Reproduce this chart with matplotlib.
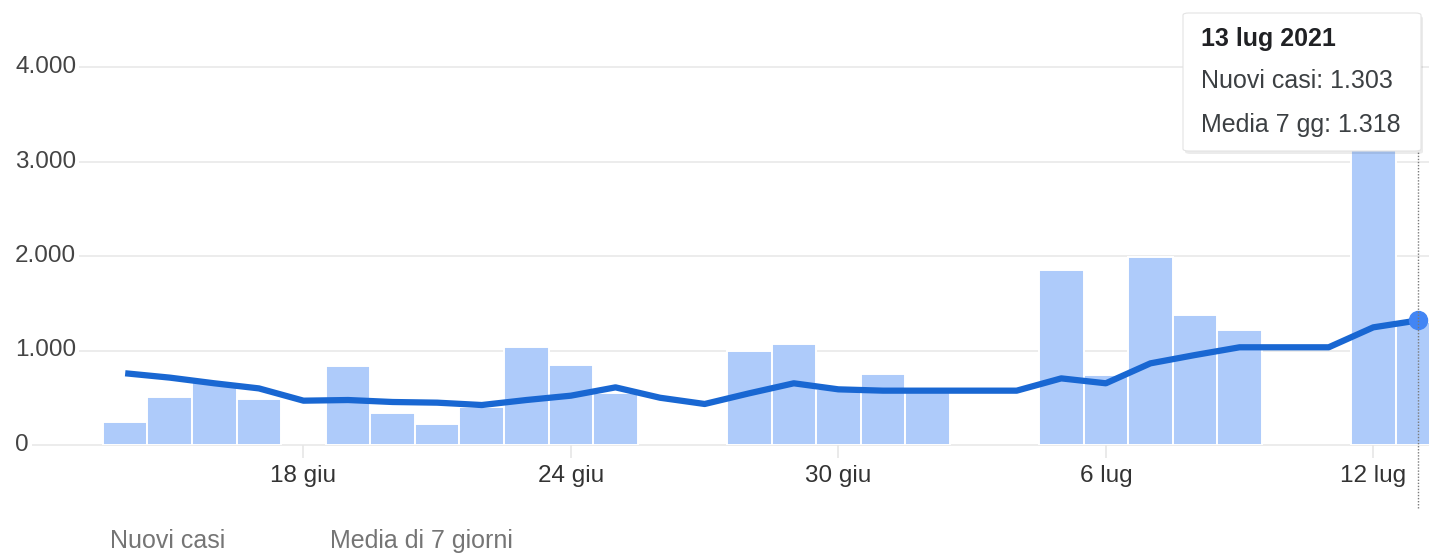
import numpy as np
import matplotlib
matplotlib.use("Agg")
import matplotlib.pyplot as plt
from matplotlib.patches import FancyBboxPatch

# ---- data (14 giu -> 13 lug 2021) ----
nuovi_casi = [240, 505, 670, 490, np.nan, 836, 335, 222, 405, 1034,
              850, 550, np.nan, np.nan, 1000, 1069, 590, 751, 590, np.nan,
              np.nan, 1850, 741, 1993, 1376, 1217, np.nan, np.nan, 3600, 1303]
media_7gg = [759, 713, 653, 599, 469, 476, 455, 448, 423, 476,
             522, 610, 500, 434, 547, 653, 589, 575, 575, 575,
             575, 705, 653, 864, 952, 1034, 1034, 1034, 1245, 1318]
tick_idx = [4, 10, 16, 22, 28]
tick_labels = ["18 giu", "24 giu", "30 giu", "6 lug", "12 lug"]
y_ticks = [0, 1000, 2000, 3000, 4000]
y_labels = ["0", "1.000", "2.000", "3.000", "4.000"]
legend_labels = ["Nuovi casi", "Media di 7 giorni"]
tip_title = "13 lug 2021"
tip_lines = ["Nuovi casi: 1.303", "Media 7 gg: 1.318"]

plt.rcParams['font.family'] = ['Liberation Sans', 'DejaVu Sans']

W, H = 1429, 556
fig = plt.figure(figsize=(W / 100, H / 100), dpi=100)

def fx(px):
    return px / W

def fy(py):
    return 1 - py / H

# axes: 0 at y=445, 4000 at y=67 ; x from 15 to 1429
ax = fig.add_axes([fx(15), fy(445), 1 - fx(15), fy(67) - fy(445)])
days = np.arange(len(nuovi_casi))
ax.set_xlim(-2.472, 29.25)
ax.set_ylim(0, 4000)

for s in ax.spines.values():
    s.set_visible(False)

# gridlines
for yv in y_ticks:
    ax.axhline(yv, color='#ebebeb', lw=1.3, zorder=0, clip_on=False)

# bars
ax.bar(days, nuovi_casi, width=1.0, color='#aecbfa', edgecolor='white',
       linewidth=1.4, zorder=2)

# 7-day average
ax.plot(days, media_7gg, color='#1967d2', lw=4.5, solid_joinstyle='round',
        solid_capstyle='butt', zorder=3)
ax.plot(days[-1], media_7gg[-1], 'o', color='#4285f4', markersize=13,
        zorder=4, clip_on=False)

# hover line
ax.plot([days[-1], days[-1]], [-667, 4000], color='#7a7a7a', lw=1.0,
        ls=(0, (1, 1.2)), zorder=5, clip_on=False)

# y labels over gridlines
for yv, lab in zip(y_ticks, y_labels):
    ax.text(0, yv, lab, transform=ax.get_yaxis_transform(), ha='left',
            va='center', fontsize=17.5, color='#444444', zorder=6,
            bbox=dict(boxstyle='square,pad=0.12', fc='white', ec='none'))
ax.set_yticks([])

# x ticks
ax.set_xticks(tick_idx)
ax.set_xticklabels(tick_labels, fontsize=17.5, color='#333333')
ax.tick_params(axis='x', length=9.5, width=1.2, color='#e6e6e6', pad=5)

# legend texts
fig.text(fx(110), fy(541), legend_labels[0], fontsize=18, color='#757575',
         ha='left', va='center')
fig.text(fx(330), fy(541), legend_labels[1], fontsize=18, color='#757575',
         ha='left', va='center')

# tooltip
shadow = FancyBboxPatch((fx(1185), fy(154)), fx(1421) - fx(1183),
                        fy(13) - fy(151),
                        boxstyle='round,pad=0,rounding_size=0.004',
                        transform=fig.transFigure, fc='#000000', ec='none',
                        alpha=0.08, zorder=7)
box = FancyBboxPatch((fx(1183), fy(151)), fx(1421) - fx(1183),
                     fy(13) - fy(151),
                     boxstyle='round,pad=0,rounding_size=0.004',
                     transform=fig.transFigure, fc='white', ec='#e3e3e3',
                     lw=0.8, zorder=8)
fig.patches.extend([shadow, box])
fig.text(fx(1201), fy(39), tip_title, fontsize=18, fontweight='bold',
         color='#202124', ha='left', va='center', zorder=9)
fig.text(fx(1201), fy(81), tip_lines[0], fontsize=18, color='#3c4043',
         ha='left', va='center', zorder=9)
fig.text(fx(1201), fy(125), tip_lines[1], fontsize=18, color='#3c4043',
         ha='left', va='center', zorder=9)

fig.savefig("out.png", dpi=100)
